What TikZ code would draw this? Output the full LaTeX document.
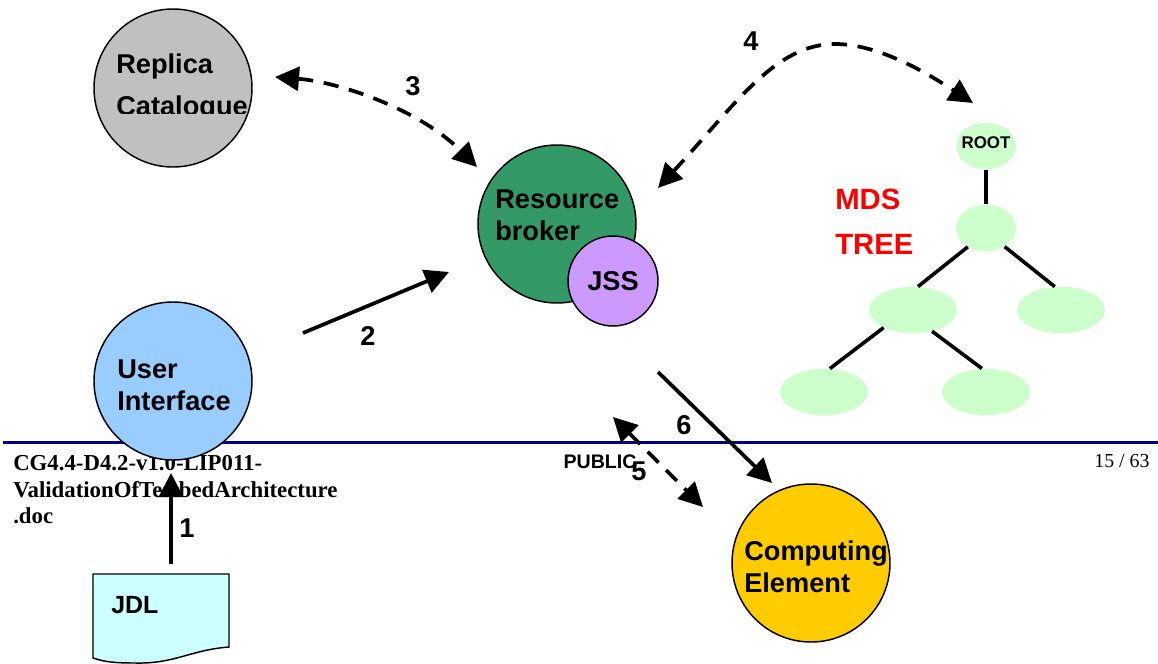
\documentclass[tikz,border=0pt]{standalone}
\usepackage{fontspec}
\setmainfont{Liberation Sans}
\newfontfamily\footerfont{Liberation Serif}
\usetikzlibrary{arrows.meta,shapes.geometric}
\definecolor{replicagrey}{HTML}{C0C0C0}
\definecolor{brokergreen}{HTML}{339966}
\definecolor{jssviolet}{HTML}{CC99FF}
\definecolor{uiblue}{HTML}{99CCFF}
\definecolor{ceyellow}{HTML}{FFCC00}
\definecolor{treegreen}{HTML}{CCFFCC}
\definecolor{jdlcyan}{HTML}{CCFFFF}
\definecolor{rulenavy}{HTML}{000080}
\tikzset{
  bubble/.style={circle,draw=black,line width=1.1pt,minimum size=118.5pt,inner sep=0pt},
  treenode/.style={ellipse,fill=treegreen,inner sep=0pt,minimum height=35pt,minimum width=66pt},
  treetop/.style={treenode,minimum width=45pt},
  treeedge/.style={line width=2.7pt},
  flow/.style={line width=2.8pt,->},
  query/.style={line width=2.8pt,<->,dash pattern=on 11.5pt off 8pt},
  caption/.style={anchor=west,align=left,inner sep=0pt,font=\bfseries\fontsize{20.4}{24}\selectfont},
  stepnum/.style={inner sep=0pt,font=\bfseries\fontsize{20.4}{24}\selectfont},
  footer/.style={inner sep=0pt,align=left,font=\footerfont\bfseries\fontsize{17.1}{20}\selectfont}
}
\begin{document}
\begin{tikzpicture}[x=0.75pt,y=-0.75pt,>={Triangle[length=18pt,width=18pt]}]
    \useasboundingbox (0,0) rectangle (1158,664);

    % footer of the page
    \coordinate (ruleL) at (3,442.5);
    \coordinate (ruleR) at (1158,442.5);
    \draw[rulenavy,line width=2.4pt] (ruleL) -- (ruleR);
    \node[footer,anchor=north west] (docname) at (13,455) {CG4.4-D4.2-v1.0-LIP011-\\ValidationOfTestbedArchitecture\\.doc};
    \node[inner sep=0pt,font=\bfseries\fontsize{14.7}{18}\selectfont] (public) at (600,462) {PUBLIC};
    \node[inner sep=0pt,font=\footerfont\fontsize{14.9}{18}\selectfont] (pageno) at (1122,461) {15 / 63};

    % services
    \node[bubble,fill=replicagrey] (rc) at (173,88) {};
    \node[caption] (rcA) at (116,66) {Replica};
    \begin{scope}
        \clip (100,80) rectangle (260,113);
        \node[caption] (rcB) at (116,109) {Catalogue};
    \end{scope}
    \node[bubble,fill=brokergreen] (rb) at (557,224) {};
    \node[caption] (rbT) at (495,215) {Resource\\broker};
    \node[circle,draw=black,line width=1.1pt,fill=jssviolet,minimum size=67.5pt,inner sep=0pt,font=\bfseries\fontsize{20.4}{24}\selectfont] (jss) at (613,281) {JSS};
    \node[bubble,fill=uiblue] (ui) at (173,381) {};
    \node[caption] (uiT) at (117,385) {User\\Interface};
    \node[bubble,fill=ceyellow] (ce) at (811,563) {};
    \node[caption] (ceT) at (744,567) {Computing\\Element};

    % job description
    \draw[line width=1.1pt,fill=jdlcyan] (93,574) -- (229,574) -- (229,647)
        .. controls (190,650) and (175,664) .. (135,663) .. controls (115,663) and (105,662) .. (93,658) -- cycle;
    \node[caption,font=\bfseries\fontsize{18.7}{22}\selectfont] (jdl) at (111,605) {JDL};

    % MDS tree
    \node[treetop] (root) at (986,146) {};
    \node[inner sep=0pt,font=\bfseries\fontsize{12.7}{15}\selectfont] (rootT) at (986,143) {ROOT};
    \node[treetop] (n1) at (986,228) {};
    \node[treenode] (n2) at (913,310) {};
    \node[treenode] (n3) at (1061,310) {};
    \node[treenode] (n4) at (824,392) {};
    \node[treenode] (n5) at (986,392) {};
    \node[caption,text=red,font=\bfseries\fontsize{22}{33.5}\selectfont] (mds) at (835,222) {MDS\\TREE};
    \path[treeedge] (root) edge (n1)
                    (n1.226) edge (n2.78)
                    (n1.-45) edge (n3.105)
                    (n2.211) edge (n4.76)
                    (n2.-48) edge (n5.100);

    % numbered arrows
    \coordinate (a1s) at (171,564);
    \coordinate (a1e) at (171,473);
    \coordinate (a2s) at (303,333);
    \coordinate (a2e) at (449,272);
    \coordinate (a3s) at (275,77);
    \coordinate (a3e) at (477,167);
    \coordinate (a4s) at (658,188);
    \coordinate (a4m) at (835,44);
    \coordinate (a4e) at (973,103);
    \coordinate (a5s) at (613,417);
    \coordinate (a5e) at (703,507);
    \coordinate (a6s) at (658,372);
    \coordinate (a6e) at (772,483);
    \draw[flow] (a1s) -- (a1e);
    \draw[flow] (a2s) -- (a2e);
    \draw[query] (a3s) .. controls (340,82) and (420,110) .. (a3e);
    \draw[query] (a4s) .. controls (735,105) and (775,44) .. (a4m) .. controls (880,44) and (930,75) .. (a4e);
    \draw[query] (a5s) -- (a5e);
    \draw[flow] (a6s) -- (a6e);
    \node[stepnum] (l1) at (187,528) {1};
    \node[stepnum] (l2) at (368,336) {2};
    \node[stepnum] (l3) at (413,86) {3};
    \node[stepnum] (l4) at (751,41) {4};
    \node[stepnum] (l5) at (639,471) {5};
    \node[stepnum] (l6) at (684,425) {6};
\end{tikzpicture}
\end{document}
